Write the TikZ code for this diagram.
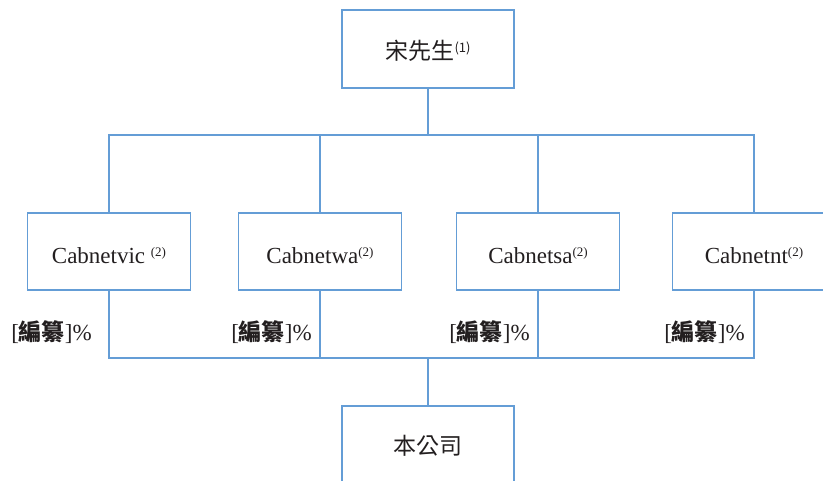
\documentclass[tikz,border=0pt]{standalone}
\usepackage{fontspec}
\setmainfont{Liberation Serif}
\newfontfamily\cjk{Noto Sans CJK TC}
\definecolor{lineblue}{RGB}{100,157,214}
\definecolor{txt}{RGB}{35,31,32}
\begin{document}
\begin{tikzpicture}[x=1pt,y=-1pt,
  box/.style={draw=lineblue,line width=1.4pt,minimum width=163pt,minimum height=77pt,inner sep=0pt,text=txt,font=\fontsize{23}{26}\selectfont},
  wide/.style={minimum width=172pt,minimum height=78pt},
  conn/.style={draw=lineblue,line width=1.4pt},
  pct/.style={anchor=east,text=txt,inner sep=0pt,font=\fontsize{23}{26}\selectfont}]
\clip (0,0) rectangle (823,481);
\fill[white] (0,0) rectangle (823,481);
\newcommand{\supx}[1]{\raisebox{7pt}{\fontsize{13}{14}\selectfont #1}}
\newcommand{\dn}[2]{\raisebox{-#1pt}[\height][\depth]{#2}}
\node[box,wide] (top) at (428,49) {\dn{2}{\cjk 宋先生\supx{(1)}}};
\node[box] (c1) at (109,251.5) {\dn{4}{Cabnetvic \supx{(2)}}};
\node[box] (c2) at (320,251.5) {\dn{4}{Cabnetwa\supx{(2)}}};
\node[box] (c3) at (538,251.5) {\dn{4}{Cabnetsa\supx{(2)}}};
\node[box] (c4) at (754,251.5) {\dn{4}{Cabnetnt\supx{(2)}}};
\node[box,wide] (co) at (428,445) {\dn{1}{\cjk 本公司}};
\coordinate (b1) at (428,135);
\coordinate (b2) at (428,358);
\draw[conn] (top.south) -- (b1);
\draw[conn] (c1.north) -- (c1.north |- b1) -- (c4.north |- b1) -- (c4.north);
\draw[conn] (c2.north) -- (c2.north |- b1);
\draw[conn] (c3.north) -- (c3.north |- b1);
\draw[conn] (c1.south) -- (c1.south |- b2) -- (c4.south |- b2) -- (c4.south);
\draw[conn] (c2.south) -- (c2.south |- b2);
\draw[conn] (c3.south) -- (c3.south |- b2);
\draw[conn] (b2) -- (co.north);
\node[pct] (p1) at (92,332) {[{\cjk\bfseries 編纂}]\%};
\node[pct] (p2) at (312,332) {[{\cjk\bfseries 編纂}]\%};
\node[pct] (p3) at (530,332) {[{\cjk\bfseries 編纂}]\%};
\node[pct] (p4) at (745,332) {[{\cjk\bfseries 編纂}]\%};
\end{tikzpicture}
\end{document}
